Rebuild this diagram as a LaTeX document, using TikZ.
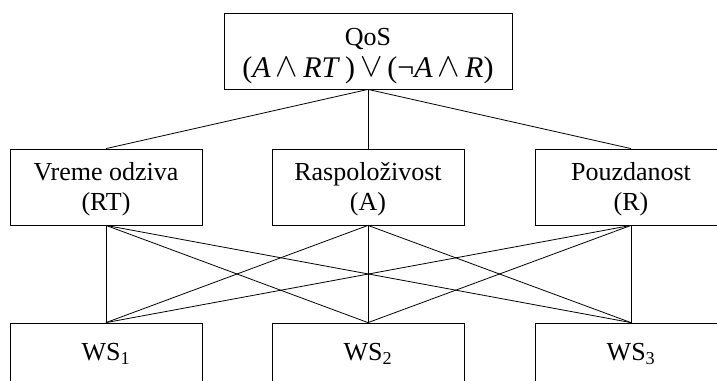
\documentclass[tikz,border=0pt]{standalone}
\usepackage{fontspec}
\setmainfont{Liberation Serif}
\newcommand{\myand}{\,\raisebox{0.5pt}{\scalebox{1.35}{$\wedge$}}\,}
\newcommand{\myor}{\,\raisebox{0.5pt}{\scalebox{1.35}{$\vee$}}\,}
\newcommand{\lowered}[2]{\raisebox{-#1}[\height][\depth]{\begin{tabular}{@{}c@{}}#2\end{tabular}}}
\begin{document}
\begin{tikzpicture}[x=1pt,y=-1pt,
  box/.style={draw,line width=0.8pt,inner sep=0pt,align=center,
    font=\fontsize{26}{30}\selectfont},
  midbox/.style={box,minimum width=192pt,minimum height=76pt},
  wsbox/.style={box,minimum width=192pt,minimum height=62pt},
  link/.style={line width=0.8pt}]
\useasboundingbox (0,0) rectangle (717,380);
\clip (0,0) rectangle (717,380);
\node[box,minimum width=288pt,minimum height=76pt] (qos) at (368,51)
  {\lowered{4pt}{QoS\\[2pt]{\fontsize{30}{30}\selectfont(\textit{A}\myand\textit{RT}\,)\myor(¬\textit{A}\myand\textit{R})}}};
\node[midbox] (rt) at (106,187) {\lowered{2pt}{Vreme odziva\\(RT)}};
\node[midbox] (a) at (368,187) {\lowered{2pt}{Raspoloživost\\(A)}};
\node[midbox] (r) at (631,187) {\lowered{2pt}{Pouzdanost\\(R)}};
\node[wsbox] (ws1) at (106,354) {WS\textsubscript{1}};
\node[wsbox] (ws2) at (368,354) {WS\textsubscript{2}};
\node[wsbox] (ws3) at (631,354) {WS\textsubscript{3}};
\foreach \m in {rt,a,r} \draw[link] (qos.south) -- (\m.north);
\foreach \m in {rt,a,r} \foreach \w in {ws1,ws2,ws3} \draw[link] (\m.south) -- (\w.north);
\end{tikzpicture}
\end{document}
